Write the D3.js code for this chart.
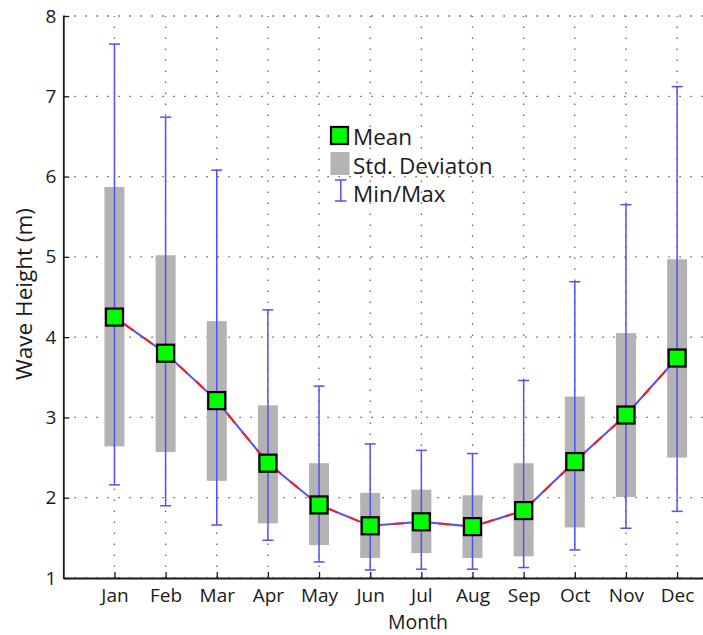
<!DOCTYPE html>
<html>
<head>
<meta charset="utf-8">
<script src="https://cdn.jsdelivr.net/npm/d3@7"></script>
<style>
  html, body { margin: 0; padding: 0; background: #fff; }
  svg { display: block; font-family: "Open Sans", "Noto Sans", sans-serif; }
</style>
</head>
<body>
<svg id="chart" width="703" height="635"></svg>
<script>
// Monthly wave height statistics
const months = ["Jan", "Feb", "Mar", "Apr", "May", "Jun", "Jul", "Aug", "Sep", "Oct", "Nov", "Dec"];
const meanVals = [4.25, 3.80, 3.21, 2.43, 1.91, 1.65, 1.70, 1.64, 1.84, 2.45, 3.03, 3.74];
const stdLow   = [2.64, 2.57, 2.21, 1.68, 1.41, 1.25, 1.31, 1.25, 1.27, 1.63, 2.01, 2.50];
const stdHigh  = [5.87, 5.02, 4.20, 3.15, 2.43, 2.06, 2.10, 2.03, 2.43, 3.26, 4.05, 4.97];
const minVals  = [2.16, 1.90, 1.66, 1.47, 1.20, 1.10, 1.11, 1.11, 1.13, 1.35, 1.62, 1.83];
const maxVals  = [7.65, 6.74, 6.08, 4.34, 3.39, 2.67, 2.59, 2.55, 3.46, 4.69, 5.65, 7.12];
const yTicks = [1, 2, 3, 4, 5, 6, 7, 8];
const legendLabels = ["Mean", "Std. Deviaton", "Min/Max"];

const data = months.map((m, i) => ({
  month: m, pos: i + 1,
  mean: meanVals[i], lo: stdLow[i], hi: stdHigh[i], min: minVals[i], max: maxVals[i]
}));

const svg = d3.select("#chart");
const plotLeft = 63.3, step = 51.15, plotTop = 16, plotBottom = 578;

const x = d3.scaleLinear().domain([0, 13]).range([plotLeft, plotLeft + 13 * step]);
const y = d3.scaleLinear().domain([1, 8]).range([plotBottom, plotTop]);

const blue = "#5050ff";
const gridColor = "#666";

// dotted grid
const grid = svg.append("g");
grid.selectAll("line.h").data(yTicks).join("line")
  .attr("x1", plotLeft).attr("x2", 703)
  .attr("y1", d => y(d)).attr("y2", d => y(d))
  .attr("stroke", gridColor).attr("stroke-width", 1.3)
  .attr("stroke-dasharray", "1.6,9.4");
grid.selectAll("line.v").data(data).join("line")
  .attr("x1", d => x(d.pos)).attr("x2", d => x(d.pos))
  .attr("y1", plotBottom).attr("y2", plotTop)
  .attr("stroke", gridColor).attr("stroke-width", 1.3)
  .attr("stroke-dasharray", "1.6,9.4");

// standard deviation bars
const barW = 20;
svg.append("g").selectAll("rect").data(data).join("rect")
  .attr("x", d => x(d.pos) - barW / 2)
  .attr("width", barW)
  .attr("y", d => y(d.hi))
  .attr("height", d => y(d.lo) - y(d.hi))
  .attr("fill", "#b3b3b3");

// min/max whiskers
const capW = 11;
const whisk = svg.append("g").attr("stroke", blue).attr("stroke-width", 1.5);
whisk.selectAll("line.stem").data(data).join("line")
  .attr("x1", d => x(d.pos)).attr("x2", d => x(d.pos))
  .attr("y1", d => y(d.min)).attr("y2", d => y(d.max));
whisk.selectAll("line.capTop").data(data).join("line")
  .attr("x1", d => x(d.pos) - capW / 2).attr("x2", d => x(d.pos) + capW / 2)
  .attr("y1", d => y(d.max)).attr("y2", d => y(d.max));
whisk.selectAll("line.capBot").data(data).join("line")
  .attr("x1", d => x(d.pos) - capW / 2).attr("x2", d => x(d.pos) + capW / 2)
  .attr("y1", d => y(d.min)).attr("y2", d => y(d.min));

// mean line: blue with red dashes on top
const line = d3.line().x(d => x(d.pos)).y(d => y(d.mean));
svg.append("path").datum(data).attr("d", line)
  .attr("fill", "none").attr("stroke", blue).attr("stroke-width", 2);
svg.append("path").datum(data).attr("d", line)
  .attr("fill", "none").attr("stroke", "#ff1a1a").attr("stroke-width", 2)
  .attr("stroke-dasharray", "11,12").attr("stroke-dashoffset", -12);

// mean markers
const sq = 17;
svg.append("g").selectAll("rect").data(data).join("rect")
  .attr("x", d => x(d.pos) - sq / 2)
  .attr("y", d => y(d.mean) - sq / 2)
  .attr("width", sq).attr("height", sq)
  .attr("fill", "#00ff00").attr("stroke", "#000").attr("stroke-width", 2.2);

// axes
const yAxis = d3.axisLeft(y).tickValues(yTicks).tickFormat(d3.format("d"))
  .tickSizeInner(-6).tickSizeOuter(0).tickPadding(7);
const gy = svg.append("g").attr("transform", `translate(${plotLeft},0)`).call(yAxis);

const xAxis = d3.axisBottom(x).tickValues(data.map(d => d.pos))
  .tickFormat(p => months[p - 1]).tickSizeInner(-6).tickSizeOuter(0).tickPadding(10.5);
const gx = svg.append("g").attr("transform", `translate(0,${plotBottom})`).call(xAxis);

[gx, gy].forEach(g => {
  g.select(".domain").attr("stroke", "#1a1a1a").attr("stroke-width", 1.8);
  g.selectAll(".tick line").attr("stroke", "#1a1a1a").attr("stroke-width", 1.3);
  g.selectAll(".tick text").attr("fill", "#1a1a1a")
    .style("font-family", '"Open Sans", sans-serif').style("font-size", "19px");
});

// axis titles
svg.append("text")
  .attr("x", 418).attr("y", 629)
  .attr("text-anchor", "middle")
  .attr("fill", "#1a1a1a").style("font-size", "19.5px")
  .text("Month");
svg.append("text")
  .attr("transform", "translate(32,294) rotate(-90)")
  .attr("text-anchor", "middle")
  .attr("fill", "#1a1a1a").style("font-size", "22.5px")
  .text("Wave Height (m)");

// legend
const lg = svg.append("g");
const lx = 340, textX = 353;
const rowBase = [145, 173.5, 201.5];
lg.append("rect").attr("x", lx - 9).attr("y", 127).attr("width", 17).attr("height", 17)
  .attr("fill", "#00ff00").attr("stroke", "#000").attr("stroke-width", 2.2);
lg.append("rect").attr("x", lx - 9.5).attr("y", 152).attr("width", 19).attr("height", 23)
  .attr("fill", "#b3b3b3");
const ib = lg.append("g").attr("stroke", blue).attr("stroke-width", 1.5);
ib.append("line").attr("x1", lx + 0.8).attr("x2", lx + 0.8).attr("y1", 180).attr("y2", 201);
ib.append("line").attr("x1", lx - 5).attr("x2", lx + 6.5).attr("y1", 180).attr("y2", 180);
ib.append("line").attr("x1", lx - 5).attr("x2", lx + 6.5).attr("y1", 201).attr("y2", 201);
lg.selectAll("text").data(legendLabels).join("text")
  .attr("x", textX).attr("y", (d, i) => rowBase[i])
  .attr("fill", "#1a1a1a").style("font-size", "22.5px")
  .text(d => d);
</script>
</body>
</html>
